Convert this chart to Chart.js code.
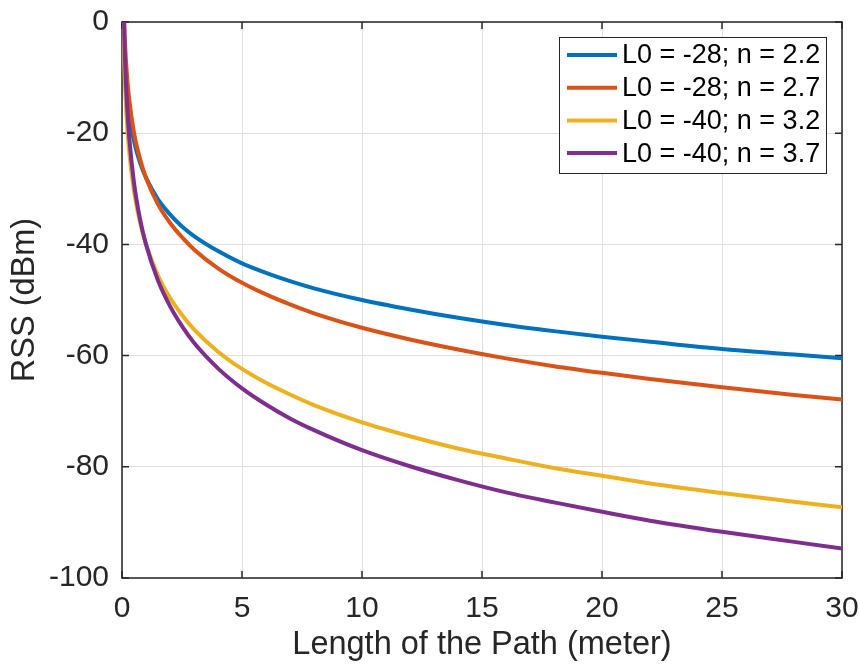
<!DOCTYPE html>
<html>
<head>
<meta charset="utf-8">
<script src="https://cdn.jsdelivr.net/npm/chart.js@4/dist/chart.umd.min.js"></script>
<style>
  html, body { margin: 0; padding: 0; background: #fff; }
  #wrap { width: 859px; height: 665px; position: relative; }
</style>
</head>
<body>
<div id="wrap"><canvas id="c" width="859" height="665"></canvas></div>
<script>
// Distances (meter) at which values were read
const distances = [0.05, 0.1, 0.15, 0.2, 0.3, 0.5, 0.75, 1, 1.5, 2, 2.5, 3, 4, 5, 6, 7, 8, 10, 12, 14, 16, 18, 20, 22, 25, 28, 30];
// RSS values (dBm)
const rssL28n22 = [0.6, -6.0, -9.9, -12.6, -16.5, -21.4, -25.3, -28.0, -31.9, -34.6, -36.8, -38.5, -41.2, -43.4, -45.1, -46.6, -47.9, -50.0, -51.7, -53.2, -54.5, -55.6, -56.6, -57.5, -58.8, -59.8, -60.5];
const rssL28n27 = [7.1, -1.0, -5.8, -9.1, -13.9, -19.9, -24.6, -28.0, -32.8, -36.1, -38.7, -40.9, -44.3, -46.9, -49.0, -50.8, -52.4, -55.0, -57.1, -58.9, -60.5, -61.9, -63.1, -64.2, -65.7, -67.1, -67.9];
const rssL40n32 = [1.6, -8.0, -13.6, -17.6, -23.3, -30.4, -36.0, -40.0, -45.6, -49.6, -52.7, -55.3, -59.3, -62.4, -64.9, -67.0, -68.9, -72.0, -74.5, -76.7, -78.5, -80.2, -81.6, -83.0, -84.7, -86.3, -87.3];
const rssL40n37 = [8.1, -3.0, -9.5, -14.1, -20.7, -28.9, -35.4, -40.0, -46.5, -51.1, -54.7, -57.7, -62.3, -65.9, -68.8, -71.3, -73.4, -77.0, -79.9, -82.4, -84.6, -86.4, -88.1, -89.7, -91.7, -93.5, -94.7];
const seriesLabels = ['L0 = -28; n = 2.2', 'L0 = -28; n = 2.7', 'L0 = -40; n = 3.2', 'L0 = -40; n = 3.7'];
const seriesColors = ['#0072BD', '#D95319', '#EDB120', '#7E2F8E'];
const xTicks = [0, 5, 10, 15, 20, 25, 30];
const yTicks = [-100, -80, -60, -40, -20, 0];
const xTitle = 'Length of the Path (meter)';
const yTitle = 'RSS (dBm)';

const seriesValues = [rssL28n22, rssL28n27, rssL40n32, rssL40n37];
const TXT = '#262626';
const FONT = "'Liberation Sans', Arial, Helvetica, sans-serif";

const datasets = seriesValues.map((vals, i) => ({
  label: seriesLabels[i],
  data: distances.map((d, j) => ({ x: d, y: vals[j] })),
  borderColor: seriesColors[i],
  backgroundColor: seriesColors[i],
  borderWidth: 4,
  pointRadius: 0,
  fill: false,
  cubicInterpolationMode: 'monotone',
  clip: 0,
  order: seriesValues.length - i
}));

const framePlugin = {
  id: 'frame',
  beforeDatasetsDraw(chart) {
    const { ctx, chartArea: a, scales } = chart;
    ctx.save();
    ctx.strokeStyle = TXT;
    ctx.lineWidth = 1.5;
    ctx.strokeRect(a.left, a.top, a.right - a.left, a.bottom - a.top);
    const tl = 7;
    ctx.beginPath();
    xTicks.forEach(v => {
      const px = scales.x.getPixelForValue(v);
      ctx.moveTo(px, a.bottom); ctx.lineTo(px, a.bottom - tl);
      ctx.moveTo(px, a.top); ctx.lineTo(px, a.top + tl);
    });
    yTicks.forEach(v => {
      const py = scales.y.getPixelForValue(v);
      ctx.moveTo(a.left, py); ctx.lineTo(a.left + tl, py);
      ctx.moveTo(a.right, py); ctx.lineTo(a.right - tl, py);
    });
    ctx.stroke();
    ctx.restore();
  },
  afterDraw(chart) {
    const { ctx } = chart;
    const bx = 559, by = 37, bw = 267, bh = 136;
    ctx.save();
    ctx.fillStyle = '#fff';
    ctx.fillRect(bx, by, bw, bh);
    ctx.strokeStyle = TXT;
    ctx.lineWidth = 1;
    ctx.strokeRect(bx + 0.5, by + 0.5, bw, bh);
    ctx.font = '27px ' + FONT;
    ctx.textBaseline = 'middle';
    ctx.textAlign = 'left';
    seriesLabels.forEach((lab, i) => {
      const y = 55 + i * 32.7;
      ctx.strokeStyle = seriesColors[i];
      ctx.lineWidth = 4;
      ctx.beginPath();
      ctx.moveTo(567, y); ctx.lineTo(617, y);
      ctx.stroke();
      ctx.fillStyle = '#000';
      ctx.fillText(lab, 622, y + 1);
    });
    ctx.restore();
  }
};

new Chart(document.getElementById('c'), {
  type: 'line',
  data: { datasets },
  options: {
    responsive: false,
    animation: false,
    devicePixelRatio: 1,
    layout: { padding: { top: 22, right: 17, left: 0, bottom: 0 } },
    plugins: { legend: { display: false }, tooltip: { enabled: false } },
    scales: {
      x: {
        type: 'linear', min: 0, max: 30,
        afterBuildTicks: s => { s.ticks = xTicks.map(v => ({ value: v })); },
        afterFit: s => { s.height = 87; s.paddingLeft = 0; s.paddingRight = 0; },
        grid: { color: '#dfdfdf', lineWidth: 1, drawTicks: false },
        border: { display: false },
        ticks: { color: TXT, font: { family: FONT, size: 30 }, padding: 13, maxRotation: 0 },
        title: { display: true, text: xTitle, color: TXT, font: { family: FONT, size: 32.5 }, padding: { top: 0, bottom: 0 } }
      },
      y: {
        type: 'linear', min: -100, max: 0,
        afterBuildTicks: s => { s.ticks = yTicks.map(v => ({ value: v })); },
        afterFit: s => { s.width = 122; s.paddingTop = 0; s.paddingBottom = 0; },
        grid: { color: '#dfdfdf', lineWidth: 1, drawTicks: false },
        border: { display: false },
        ticks: { color: TXT, font: { family: FONT, size: 30 }, padding: 13 },
        title: { display: true, text: yTitle, color: TXT, font: { family: FONT, size: 32.5 }, padding: { top: 6, bottom: 0 } }
      }
    }
  },
  plugins: [framePlugin]
});
</script>
</body>
</html>
